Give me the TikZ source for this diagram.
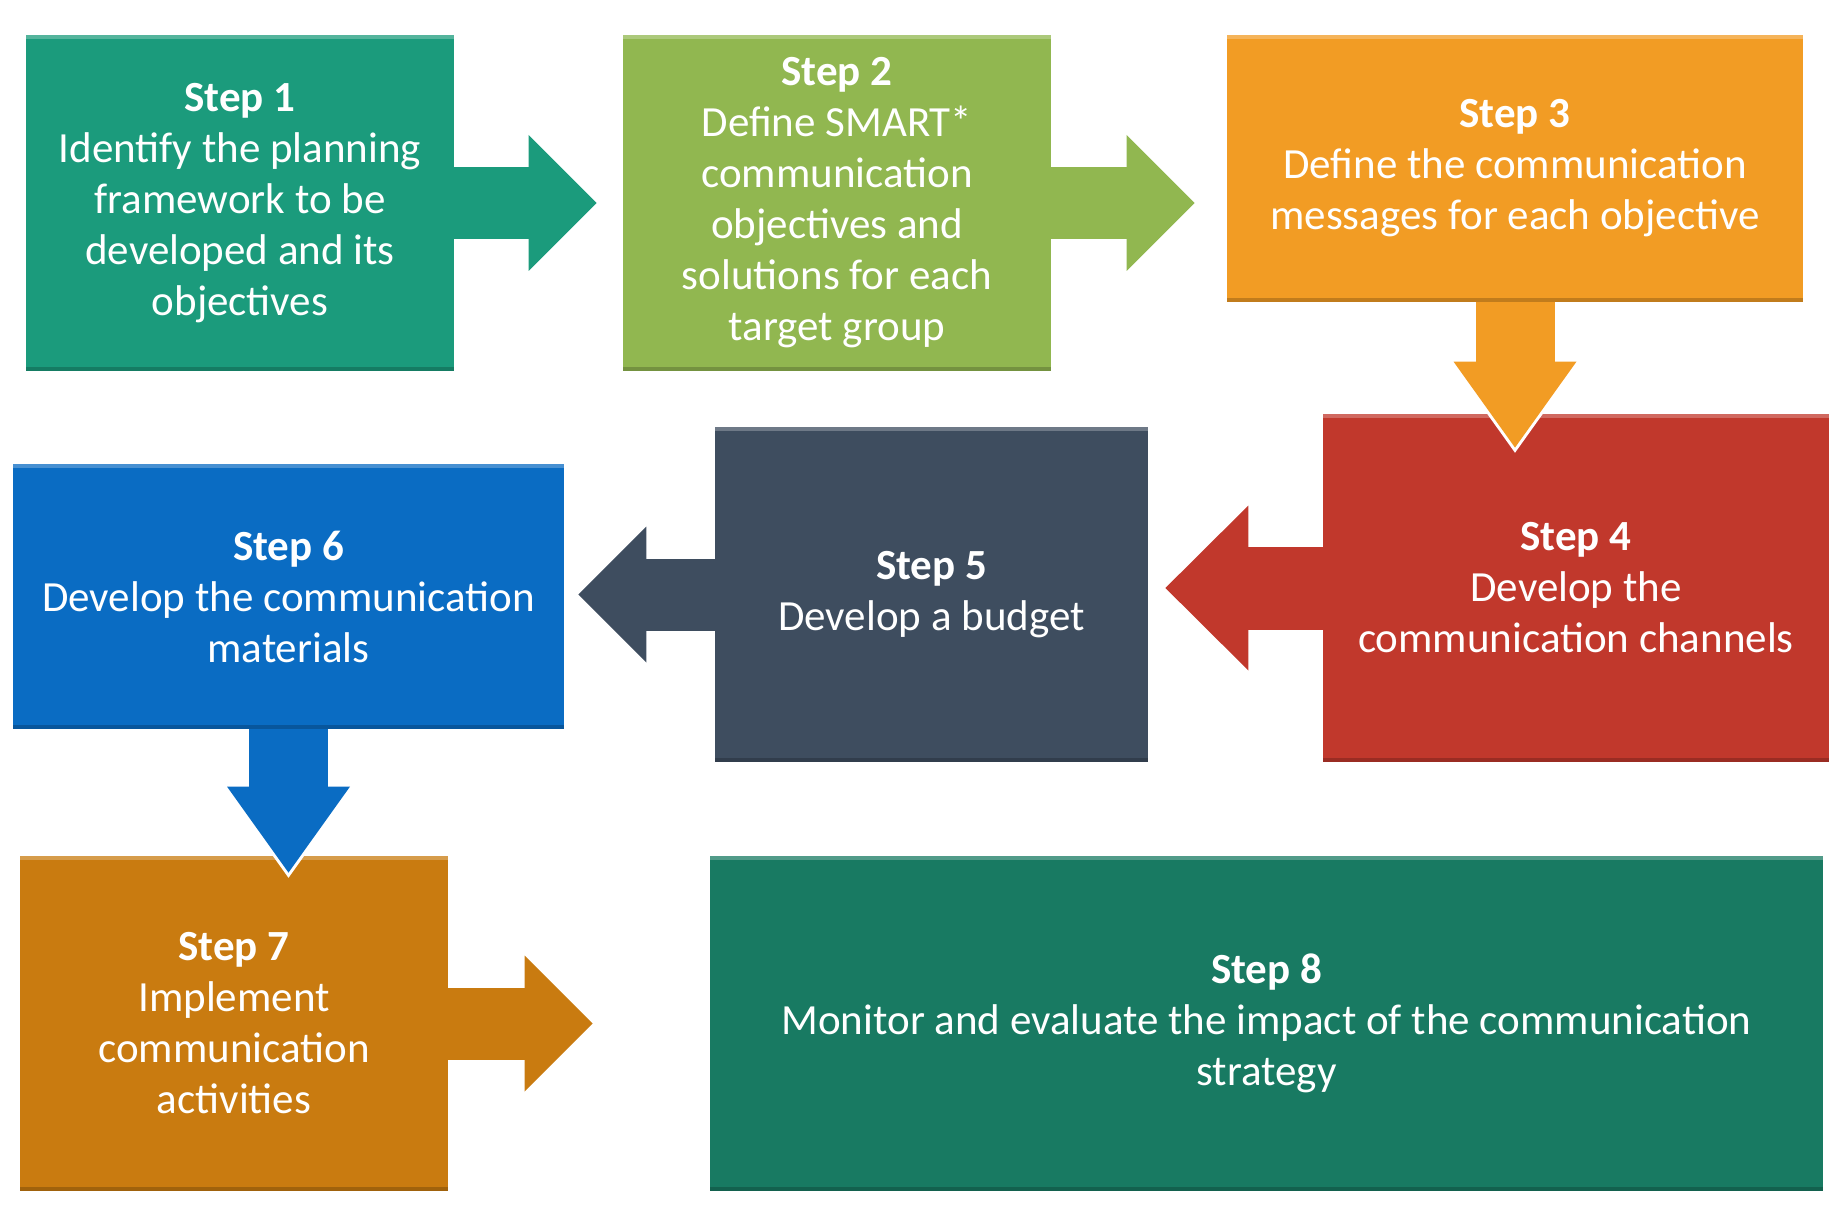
\documentclass[tikz,border=0pt]{standalone}
\usepackage{fontspec}
\setmainfont{Carlito}
\usepackage{xcolor}
\usepackage{tikz}
\usetikzlibrary{arrows.meta, calc}
\definecolor{stepteal}{RGB}{27,155,124}
\definecolor{steplime}{RGB}{145,183,80}
\definecolor{steporange}{RGB}{242,156,36}
\definecolor{stepred}{RGB}{193,56,44}
\definecolor{stepslate}{RGB}{62,77,95}
\definecolor{stepblue}{RGB}{10,108,195}
\definecolor{stepamber}{RGB}{201,123,16}
\definecolor{steppine}{RGB}{24,122,98}
\tikzset{stepbox/.style={
    rectangle,
    inner sep=0pt,
    text=white,
    align=center,
    font=\fontsize{21.5}{25.5}\selectfont,
    execute at begin node={\rule{0pt}{26pt}},
    path picture={
        \fill[white, opacity=.25] (path picture bounding box.north west)
            rectangle ([yshift=-2pt]path picture bounding box.north east);
        \fill[black, opacity=.2] (path picture bounding box.south west)
            rectangle ([yshift=2pt]path picture bounding box.south east);
    }
}}
\tikzset{flow/.style={
    line width=36pt,
    -{Triangle[length=34pt, width=68pt, line width=0pt]}
}}
\tikzset{drop/.style={
    line width=39.5pt,
    -{Triangle[length=43pt, width=61.5pt, line width=0pt]}
}}
\tikzset{rim/.style={
    white, line width=1pt,
    -{Triangle[length=45.6pt, width=65.2pt, line width=0pt]}
}}

\begin{document}
\begin{tikzpicture}[x=0.5pt, y=-0.5pt]
    \useasboundingbox (0,0) rectangle (1843,1209);
    % Top row
    \node (s1) [stepbox, fill=stepteal, minimum width=214pt, minimum height=168pt] at (240,203)
        {\textbf{Step 1}\\Identify the planning\\framework to be\\developed and its\\objectives};
    \node (s2) [stepbox, fill=steplime, minimum width=214pt, minimum height=168pt] at (837,203)
        {\textbf{Step 2}\\Define SMART*\\communication\\objectives and\\solutions for each\\target group};
    \node (s3) [stepbox, fill=steporange, minimum width=288pt, minimum height=133.5pt] at (1515,168.5)
        {\textbf{Step 3}\\Define the communication\\messages for each objective};
    % Middle row
    \node (s4) [stepbox, fill=stepred, minimum width=253pt, minimum height=174pt] at (1576,588)
        {\textbf{Step 4}\\Develop the\\communication channels};
    \node (s5) [stepbox, fill=stepslate, minimum width=216.5pt, minimum height=167.5pt] at (931.5,594.5)
        {\textbf{Step 5}\\Develop a budget};
    \node (s6) [stepbox, fill=stepblue, minimum width=275.5pt, minimum height=132.5pt] at (288.5,596.5)
        {\textbf{Step 6}\\Develop the communication\\materials};
    % Bottom row
    \node (s7) [stepbox, fill=stepamber, minimum width=214pt, minimum height=167.5pt] at (234,1023.5)
        {\textbf{Step 7}\\Implement\\communication\\activities};
    \node (s8) [stepbox, fill=steppine, minimum width=556.5pt, minimum height=167.5pt] at (1266.5,1023.5)
        {\textbf{Step 8}\\Monitor and evaluate the impact of the communication\\strategy};

    \draw [flow, stepteal, shorten >=13pt] (s1.east) -- (s2.west);
    \draw [flow, steplime, shorten >=16pt] (s2.east) -- (s2.east -| s3.west);
    \draw [rim, shorten >=-19.6pt] (s3.south) -- (s3.south |- s4.north);
    \draw [drop, steporange, shorten >=-17pt] (s3.south) -- (s3.south |- s4.north);
    \draw [flow, stepred, line width=41.5pt,
        -{Triangle[length=41.5pt, width=82.5pt, line width=0pt]},
        shorten >=8.5pt] (s4.west) -- (s4.west -| s5.east);
    \draw [flow, stepslate, shorten >=7pt] (s5.west) -- (s5.west -| s6.east);
    \draw [rim, shorten >=-11.1pt] (s6.south) -- (s6.south |- s7.north);
    \draw [drop, stepblue, shorten >=-8.5pt] (s6.south) -- (s6.south |- s7.north);
    \draw [flow, stepamber, shorten >=58.5pt] (s7.east) -- (s8.west);
\end{tikzpicture}
\end{document}
